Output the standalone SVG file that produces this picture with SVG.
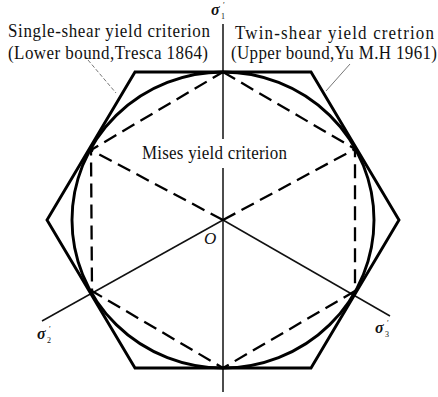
<svg xmlns="http://www.w3.org/2000/svg" width="438" height="397" viewBox="0 0 438 397">
<style>
.txt{font-family:"Liberation Serif","Times New Roman",serif;fill:#111;}
.lbl{font-size:17px;}
.sig{font-size:16px;font-style:italic;font-weight:bold;}
.sub{font-size:8px;font-style:normal;}
.thick{fill:none;stroke:#000;stroke-width:2.9;stroke-linejoin:miter;}
.dash{fill:none;stroke:#000;stroke-width:2.3;stroke-dasharray:14 7;}
.axis{fill:none;stroke:#111;stroke-width:1.5;}
.lead{fill:none;stroke:#777;stroke-width:1;}
</style>
<rect width="438" height="397" fill="#fff"/>
<g id="connectors">
  <line class="axis" x1="223" y1="24" x2="223" y2="139"/>
  <line class="axis" x1="223" y1="168" x2="223" y2="392"/>
  <line class="axis" x1="42" y1="321" x2="223" y2="220"/>
  <line class="axis" x1="223" y1="220" x2="390" y2="316"/>
  <line class="dash" x1="223" y1="220" x2="91" y2="150"/>
  <line class="dash" x1="223" y1="220" x2="355" y2="149"/>
  <line class="lead" x1="88" y1="60" x2="116" y2="93" stroke-dasharray="4 2"/>
  <line class="lead" x1="350" y1="64" x2="326" y2="91"/>
</g>
<g id="twin-shear">
  <polygon class="thick" points="135,72 311,72 399,220 311,368 135,368 47,220"/>
</g>
<g id="mises">
  <ellipse class="thick" cx="223" cy="220" rx="151" ry="148"/>
</g>
<g id="tresca">
  <polygon class="dash" points="223,72 355,149 355,291 223,368 92,291 91,150"/>
</g>
<g id="label-single">
  <text class="txt lbl" transform="translate(8,37) scale(1,1.15)" textLength="202" lengthAdjust="spacing">Single-shear yield criterion</text>
  <text class="txt lbl" transform="translate(8,59) scale(1,1.15)" textLength="200" lengthAdjust="spacing">(Lower bound,Tresca 1864)</text>
</g>
<g id="label-twin">
  <text class="txt lbl" transform="translate(235,39) scale(1,1.15)" textLength="199" lengthAdjust="spacing">Twin-shear yield cretrion</text>
  <text class="txt lbl" transform="translate(231,59) scale(1,1.15)" textLength="206" lengthAdjust="spacing">(Upper bound,Yu M.H 1961)</text>
</g>
<g id="label-mises">
  <text class="txt lbl" transform="translate(142,159) scale(1,1.15)" font-size="17.5" textLength="145" lengthAdjust="spacing">Mises yield criterion</text>
</g>
<g id="label-O">
  <text class="txt" x="204" y="244" font-size="17" font-style="italic">O</text>
</g>
<g id="label-s1">
  <text class="txt sig" x="211" y="15">σ</text>
  <text class="txt sub" x="221" y="19">1</text>
  <text class="txt sub" x="223" y="8">′</text>
</g>
<g id="label-s2">
  <text class="txt sig" x="37" y="339">σ</text>
  <text class="txt sub" x="47" y="343">2</text>
  <text class="txt sub" x="49" y="332">′</text>
</g>
<g id="label-s3">
  <text class="txt sig" x="375" y="333">σ</text>
  <text class="txt sub" x="385" y="337">3</text>
  <text class="txt sub" x="387" y="326">′</text>
</g>
</svg>
